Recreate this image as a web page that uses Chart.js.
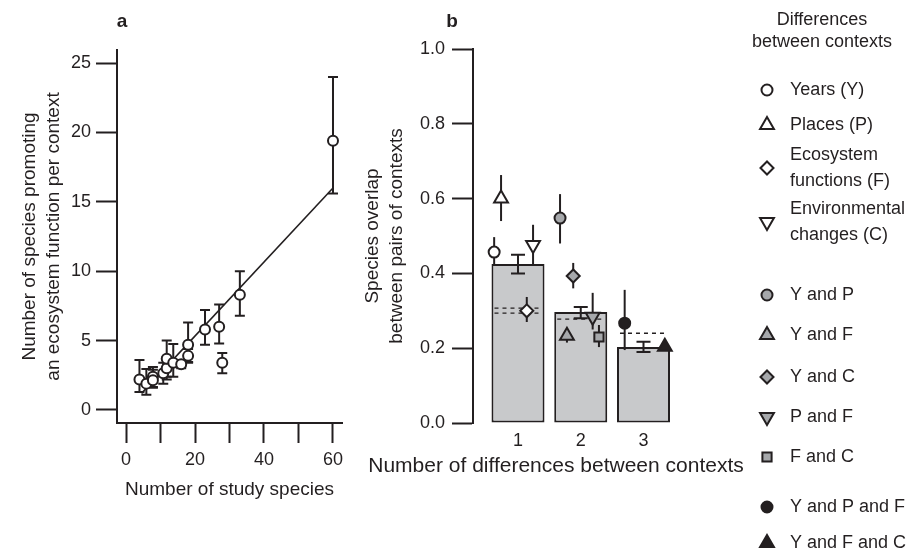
<!DOCTYPE html>
<html>
<head>
<meta charset="utf-8">
<script src="https://cdn.jsdelivr.net/npm/chart.js@4.4.0/dist/chart.umd.min.js"></script>
<style>
  html, body { margin: 0; padding: 0; background: #fff; }
  #wrap { position: relative; width: 908px; height: 551px; }
  .panel { position: absolute; top: 0; height: 551px; }
  #panelA { left: 0; width: 350px; }
  #panelB { left: 350px; width: 558px; }
</style>
</head>
<body>
<div id="wrap">
  <div class="panel" id="panelA"><canvas id="chartA"></canvas></div>
  <div class="panel" id="panelB"><canvas id="chartB"></canvas></div>
</div>
<script>
// ---- panel a: species promoting a function vs number of study species
const studySpecies      = [3.9, 5.9, 7.8, 7.8, 10.8, 11.8, 11.8, 13.7, 16.0, 18.0, 18.0, 22.9, 27.0, 27.9, 33.0, 60.0];
const speciesPromoting  = [2.2, 1.9, 2.4, 2.15, 2.65, 3.0, 3.7, 3.4, 3.3, 3.9, 4.7, 5.8, 6.0, 3.4, 8.3, 19.4];
const promotingLow      = [1.3, 1.1, 1.65, 1.6, 1.9, 2.2, 2.4, 2.4, 3.0, 3.45, 3.4, 4.7, 4.8, 2.65, 6.8, 15.6];
const promotingHigh     = [3.6, 2.95, 3.1, 2.9, 3.4, 3.8, 5.0, 4.75, 3.6, 4.4, 6.3, 7.2, 7.6, 4.1, 10.0, 24.0];
const fitX = [4.5, 60];
const fitY = [1.2, 16.0];
const xTicksA = [0, 10, 20, 30, 40, 50, 60];
const yTicksA = [0, 5, 10, 15, 20, 25];

// ---- panel b: species overlap between pairs of contexts
const diffCounts      = [1, 2, 3];
const meanOverlap     = [0.425, 0.297, 0.203];
const meanOverlapLow  = [0.40, 0.28, 0.19];
const meanOverlapHigh = [0.45, 0.31, 0.217];
const nullOverlap     = [[0.307, 0.294], [0.278], [0.24]];
const yTicksB = [0, 0.2, 0.4, 0.6, 0.8, 1.0];

const contextLabels  = ['Years (Y)', 'Places (P)', 'Ecosystem functions (F)', 'Environmental changes (C)',
                        'Y and P', 'Y and F', 'Y and C', 'P and F', 'F and C', 'Y and P and F', 'Y and F and C'];
const legendLines    = [['Years (Y)'], ['Places (P)'], ['Ecosystem', 'functions (F)'], ['Environmental', 'changes (C)'],
                        ['Y and P'], ['Y and F'], ['Y and C'], ['P and F'], ['F and C'], ['Y and P and F'], ['Y and F and C']];
const contextX       = [0.62, 0.73, 1.14, 1.24, 1.67, 1.78, 1.88, 2.19, 2.29, 2.70, 3.34];
const contextOverlap = [0.457, 0.60, 0.30, 0.476, 0.548, 0.233, 0.393, 0.284, 0.23, 0.267, 0.204];
const contextLow     = [0.42, 0.54, 0.27, 0.425, 0.48, 0.215, 0.36, 0.25, 0.203, 0.195, 0.204];
const contextHigh    = [0.497, 0.663, 0.337, 0.53, 0.612, 0.24, 0.428, 0.348, 0.262, 0.356, 0.204];

const INK = '#231f20';
const BAR_GREY = '#c8c9cb';
const MARK_GREY = '#a6a8ab';
const FONT = '"Liberation Sans", Arial, Helvetica, sans-serif';

// marker look per context (open = single difference, grey = two, black = three)
const markerStyles = [
  { style: 'circle',   rot: 0,   r: 5.5, fill: '#fff' },
  { style: 'triangle', rot: 0,   r: 8,   fill: '#fff' },
  { style: 'rectRot',  rot: 0,   r: 6.5, fill: '#fff' },
  { style: 'triangle', rot: 180, r: 8,   fill: '#fff' },
  { style: 'circle',   rot: 0,   r: 5.5, fill: MARK_GREY },
  { style: 'triangle', rot: 0,   r: 8,   fill: MARK_GREY },
  { style: 'rectRot',  rot: 0,   r: 6.5, fill: MARK_GREY },
  { style: 'triangle', rot: 180, r: 8,   fill: MARK_GREY },
  { style: 'rect',     rot: 0,   r: 6.5, fill: MARK_GREY },
  { style: 'circle',   rot: 0,   r: 5.5, fill: INK },
  { style: 'triangle', rot: 0,   r: 8,   fill: INK }
];

Chart.defaults.font.family = FONT;
Chart.defaults.font.size = 18;
Chart.defaults.color = INK;

const titleFont = { size: 19, lineHeight: 1.25 };

// vertical error bars with caps for panel a
const errorBarsA = {
  id: 'errorBarsA',
  beforeDatasetsDraw(chart) {
    const { ctx, scales: { x, y } } = chart;
    ctx.save();
    ctx.strokeStyle = INK;
    ctx.lineWidth = 2;
    studySpecies.forEach((sx, i) => {
      const px = x.getPixelForValue(sx);
      const lo = y.getPixelForValue(promotingLow[i]);
      const hi = y.getPixelForValue(promotingHigh[i]);
      ctx.beginPath();
      ctx.moveTo(px, lo); ctx.lineTo(px, hi);
      ctx.moveTo(px - 5, lo); ctx.lineTo(px + 5, lo);
      ctx.moveTo(px - 5, hi); ctx.lineTo(px + 5, hi);
      ctx.stroke();
    });
    ctx.restore();
  }
};

const panelLetter = (letter, px) => ({
  id: 'letter' + letter,
  afterDraw(chart) {
    const ctx = chart.ctx;
    ctx.save();
    ctx.fillStyle = INK;
    ctx.font = 'bold 19px ' + FONT;
    ctx.textAlign = 'center';
    ctx.textBaseline = 'middle';
    ctx.fillText(letter, px, 22);
    ctx.restore();
  }
});

new Chart(document.getElementById('chartA'), {
  type: 'scatter',
  data: {
    datasets: [
      {
        label: 'Studies',
        data: studySpecies.map((v, i) => ({ x: v, y: speciesPromoting[i] })),
        pointStyle: 'circle',
        pointRadius: 5,
        pointBorderWidth: 2,
        pointBackgroundColor: '#fff',
        pointBorderColor: INK,
        order: 0
      },
      {
        type: 'line',
        label: 'Fit',
        data: fitX.map((v, i) => ({ x: v, y: fitY[i] })),
        borderColor: INK,
        borderWidth: 1.6,
        pointRadius: 0,
        order: 1
      }
    ]
  },
  options: {
    responsive: true,
    maintainAspectRatio: false,
    animation: false,
    layout: { padding: { left: 0, top: 50, right: 8, bottom: 0 } },
    plugins: { legend: { display: false }, tooltip: { enabled: false } },
    scales: {
      x: {
        type: 'linear',
        min: -2.61, max: 62.61,
        afterBuildTicks: s => { s.ticks = xTicksA.map(v => ({ value: v })); },
        afterFit: s => { s.height = 128; },
        grid: { drawOnChartArea: false, tickLength: 20, tickWidth: 2, tickColor: INK },
        border: { display: true, color: INK, width: 2 },
        ticks: { padding: 6, maxRotation: 0, callback: v => (v % 20 === 0 ? v : '') },
        title: { display: true, text: 'Number of study species', font: titleFont, padding: { top: 0, bottom: 49 } }
      },
      y: {
        min: -0.937, max: 25.94,
        afterBuildTicks: s => { s.ticks = yTicksA.map(v => ({ value: v })); },
        afterFit: s => { s.width = 117; },
        grid: { drawOnChartArea: false, tickLength: 21, tickWidth: 2, tickColor: INK },
        border: { display: true, color: INK, width: 2 },
        ticks: { padding: 5 },
        title: {
          display: true,
          text: ['Number of species promoting', 'an ecosystem function per context'],
          font: titleFont,
          padding: { top: 18, bottom: 0 }
        }
      }
    }
  },
  plugins: [errorBarsA, panelLetter('a', 122)]
});

// bars' error bars, null-model lines and marker error lines, drawn right after the bars
const overlayB = {
  id: 'overlayB',
  afterDatasetDraw(chart, args) {
    if (args.index !== 0) return;
    const { ctx, scales: { x, y } } = chart;
    const bars = args.meta.data;
    ctx.save();
    ctx.strokeStyle = INK;

    ctx.lineWidth = 1.3;
    ctx.setLineDash([4, 4]);
    nullOverlap.forEach((vals, i) => {
      const b = bars[i];
      const half = b.width / 2;
      vals.forEach(v => {
        const py = y.getPixelForValue(v);
        ctx.beginPath();
        ctx.moveTo(b.x - half + 3, py);
        ctx.lineTo(b.x + half - 3, py);
        ctx.stroke();
      });
    });
    ctx.setLineDash([]);

    ctx.lineWidth = 2;
    diffCounts.forEach((c, i) => {
      const px = x.getPixelForValue(c);
      const lo = y.getPixelForValue(meanOverlapLow[i]);
      const hi = y.getPixelForValue(meanOverlapHigh[i]);
      ctx.beginPath();
      ctx.moveTo(px, lo); ctx.lineTo(px, hi);
      ctx.moveTo(px - 7, lo); ctx.lineTo(px + 7, lo);
      ctx.moveTo(px - 7, hi); ctx.lineTo(px + 7, hi);
      ctx.stroke();
    });

    contextX.forEach((cx, i) => {
      const px = x.getPixelForValue(cx);
      ctx.beginPath();
      ctx.moveTo(px, y.getPixelForValue(contextLow[i]));
      ctx.lineTo(px, y.getPixelForValue(contextHigh[i]));
      ctx.stroke();
    });
    ctx.restore();
  }
};

const legendTitle = ['Differences', 'between contexts'];
const legendRowY = [90, 125, 168, 222, 295, 335, 377, 417, 457, 507, 543];
const xTitleB = 'Number of differences between contexts';

const legendB = {
  id: 'legendB',
  afterDraw(chart) {
    const ctx = chart.ctx;
    ctx.save();
    ctx.fillStyle = INK;
    ctx.textBaseline = 'middle';
    ctx.textAlign = 'center';
    // x-axis title, wider than the plot so drawn here, centred as in the figure
    ctx.font = '21px ' + FONT;
    ctx.fillText(xTitleB, 206, 466);
    ctx.font = '18px ' + FONT;
    legendTitle.forEach((t, i) => ctx.fillText(t, 472, 20 + i * 22));
    chart.data.datasets.slice(1).forEach((ds, i) => {
      const rowY = legendRowY[i];
      ctx.fillStyle = ds.pointBackgroundColor;
      ctx.strokeStyle = INK;
      ctx.lineWidth = 2;
      Chart.helpers.drawPoint(ctx, {
        pointStyle: ds.pointStyle, rotation: ds.pointRotation, radius: ds.pointRadius, borderWidth: 2
      }, 417, rowY);
      ctx.fillStyle = INK;
      ctx.textAlign = 'left';
      const lines = legendLines[i];
      lines.forEach((t, j) => ctx.fillText(t, 440, rowY + (j - (lines.length - 1) / 2) * 26));
    });
    ctx.restore();
  }
};

const markerSets = contextLabels.map((label, i) => ({
  type: 'scatter',
  label,
  data: [{ x: contextX[i], y: contextOverlap[i] }],
  pointStyle: markerStyles[i].style,
  pointRotation: markerStyles[i].rot,
  pointRadius: markerStyles[i].r,
  pointBorderWidth: 2,
  pointBackgroundColor: markerStyles[i].fill,
  pointBorderColor: INK,
  clip: false,
  order: 0
}));

new Chart(document.getElementById('chartB'), {
  type: 'bar',
  data: {
    datasets: [
      {
        label: 'Mean overlap',
        data: diffCounts.map((c, i) => ({ x: c, y: meanOverlap[i] })),
        backgroundColor: BAR_GREY,
        borderColor: INK,
        borderWidth: 2,
        borderSkipped: false,
        barPercentage: 1,
        categoryPercentage: 0.845,
        clip: false,
        order: 10
      },
      ...markerSets
    ]
  },
  options: {
    responsive: true,
    maintainAspectRatio: false,
    animation: false,
    layout: { padding: { left: 0, top: 49, right: 228, bottom: 0 } },
    plugins: { legend: { display: false }, tooltip: { enabled: false } },
    scales: {
      x: {
        type: 'linear',
        offset: false,
        min: 0.2829, max: 3.5817,
        afterBuildTicks: s => { s.ticks = diffCounts.map(v => ({ value: v })); },
        afterFit: s => { s.height = 128; },
        grid: { display: false, drawTicks: false, offset: false },
        border: { display: false },
        ticks: { padding: 7, maxRotation: 0 },
        title: { display: false }
      },
      y: {
        min: 0, max: 1,
        afterBuildTicks: s => { s.ticks = yTicksB.map(v => ({ value: v })); },
        afterFit: s => { s.width = 123; },
        grid: { drawOnChartArea: false, tickLength: 21, tickWidth: 2, tickColor: INK },
        border: { display: true, color: INK, width: 2 },
        ticks: { padding: 7, callback: v => v.toFixed(1) },
        title: {
          display: true,
          text: ['Species overlap', 'between pairs of contexts'],
          font: titleFont,
          padding: { top: 11, bottom: 0 }
        }
      }
    }
  },
  plugins: [overlayB, legendB, panelLetter('b', 102)]
});
</script>
</body>
</html>
